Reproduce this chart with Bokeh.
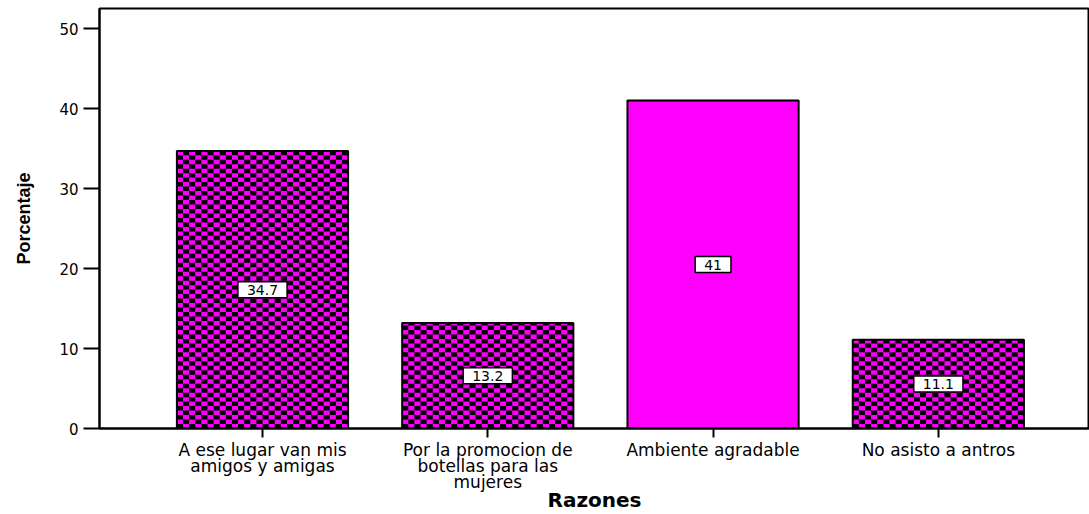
import numpy as np
from bokeh.plotting import figure
from bokeh.models import Range1d, FixedTicker, ColumnDataSource
from bokeh.core.properties import value
from bokeh.embed import file_html
from bokeh.resources import INLINE

# ---- data ----
categories = [
    "A ese lugar van mis\namigos y amigas",
    "Por la promocion de\nbotellas para las\nmujeres",
    "Ambiente agradable",
    "No asisto a antros",
]
percentages = [34.7, 13.2, 41.0, 11.1]
value_labels = ["34.7", "13.2", "41", "11.1"]
fill_styles = ["checker", "checker", "solid", "checker"]
y_ticks = [0, 10, 20, 30, 40, 50]
x_title = "Razones"
y_title = "Porcentaje"

positions = [i + 1 for i in range(len(categories))]
label_y = [v / 2.0 for v in percentages]
bar_width = 0.76

x_range = Range1d(0.2765, 4.671)
y_range = Range1d(0, 52.5)

src = ColumnDataSource(dict(x=positions, top=percentages, ly=label_y, lab=value_labels))

# checkerboard texture cells derived from the bars
cols_per_bar = 28
cell_w = bar_width / cols_per_bar
cell_h = 0.56
L, R, B, T = [], [], [], []
for x, top, style in zip(positions, percentages, fill_styles):
    if style != "checker":
        continue
    left = x - bar_width / 2
    n_rows = int(np.ceil(top / cell_h))
    for j in range(n_rows):
        b = j * cell_h
        t = min(top, b + cell_h)
        for i in range(cols_per_bar):
            if (i + j) % 2 == 0:
                L.append(left + i * cell_w)
                R.append(left + (i + 1) * cell_w)
                B.append(b)
                T.append(t)
cells = ColumnDataSource(dict(left=L, right=R, bottom=B, top=T))

p = figure(width=1089, height=514, output_backend="svg", toolbar_location=None,
           x_range=x_range, y_range=y_range,
           min_border_left=99, min_border_right=0, min_border_top=8, min_border_bottom=86)

# magenta fill
p.vbar(x="x", top="top", bottom=0, width=bar_width, source=src,
       fill_color="#ff00ff", line_color=None)
# black checker cells
p.quad(left="left", right="right", bottom="bottom", top="top", source=cells,
       fill_color="black", line_color=None)
# bar outlines
p.vbar(x="x", top="top", bottom=0, width=bar_width, source=src,
       fill_color=None, line_color="black", line_width=2)

p.text(x="x", y="ly", text="lab", source=src,
       text_font=value("DejaVu Sans"), text_font_size="14px",
       text_align="center", text_baseline="middle", text_color="black",
       background_fill_color="white", border_line_color="black", border_line_width=1.5,
       padding=dict(left=9, right=9, top=3, bottom=3))

p.xgrid.visible = False
p.ygrid.visible = False
p.outline_line_color = "black"
p.outline_line_width = 2
p.background_fill_color = "white"
p.border_fill_color = "white"

# y axis
ya = p.yaxis[0]
ya.ticker = FixedTicker(ticks=y_ticks)
ya.minor_tick_line_color = None
ya.major_tick_in = 0
ya.major_tick_out = 16
ya.major_tick_line_width = 2
ya.axis_line_width = 2
ya.axis_line_color = "black"
ya.major_label_text_font = "DejaVu Sans"
ya.major_label_text_font_size = "15px"
ya.major_label_text_color = "black"
ya.major_label_standoff = 5
ya.axis_label = y_title
ya.axis_label_text_font = "Liberation Sans"
ya.axis_label_text_font_style = "bold"
ya.axis_label_text_font_size = "18px"
ya.axis_label_text_color = "black"
ya.axis_label_standoff = 22

# x axis
xa = p.xaxis[0]
xa.ticker = FixedTicker(ticks=positions)
xa.major_label_overrides = {pos: cat for pos, cat in zip(positions, categories)}
xa.minor_tick_line_color = None
xa.major_tick_in = 0
xa.major_tick_out = 9
xa.major_tick_line_width = 2
xa.axis_line_width = 2
xa.axis_line_color = "black"
xa.major_label_text_font = "DejaVu Sans"
xa.major_label_text_font_size = "17px"
xa.major_label_text_line_height = 0.8
xa.major_label_text_color = "black"
xa.major_label_standoff = 2
xa.axis_label = x_title
xa.axis_label_text_font = "DejaVu Sans"
xa.axis_label_text_font_style = "bold"
xa.axis_label_text_font_size = "20px"
xa.axis_label_text_color = "black"
xa.axis_label_standoff = -7

open("out.html", "w").write(file_html(p, INLINE))
